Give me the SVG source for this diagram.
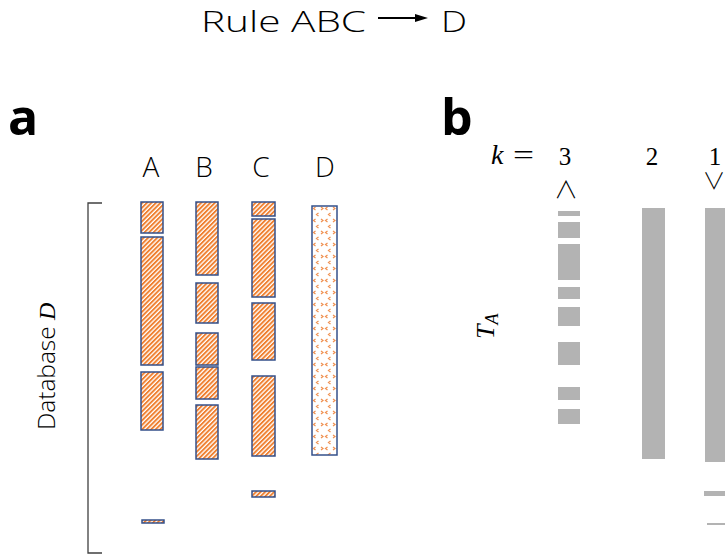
<svg xmlns="http://www.w3.org/2000/svg" width="725" height="560" viewBox="0 0 725 560">
<defs>
<pattern id="hatch" patternUnits="userSpaceOnUse" width="3.2" height="3.2" patternTransform="rotate(45)">
<rect width="3.2" height="3.2" fill="#ffffff"/>
<rect width="1.9" height="3.2" fill="#EF7F2F"/>
</pattern>
<pattern id="dots" patternUnits="userSpaceOnUse" x="312" y="206" width="12" height="12">
<rect width="12" height="12" fill="#ffffff"/>
<path d="M3.5,1 L1.5,2.5 L3.5,4 M9,1 L11,2.5 L9,4 M6.5,7 L4.5,8.5 L6.5,10" fill="none" stroke="#F09050" stroke-width="1.2"/>
</pattern>
</defs>
<style>
.t{font-family:"Open Sans","Liberation Sans",sans-serif;font-weight:300;fill:#000}
.lbl{font-family:"Open Sans","Liberation Sans",sans-serif;font-weight:700;fill:#000}
.m{font-family:"Liberation Serif",serif;fill:#000}
.op{font-family:"Noto Sans CJK JP","DejaVu Sans",sans-serif;font-weight:300;fill:#000}
.h{fill:url(#hatch);stroke:#34508A;stroke-width:1.5}
.g{fill:#B3B3B3}
</style>

<g id="title">
<text class="t" x="201" y="32" font-size="30" textLength="165" lengthAdjust="spacingAndGlyphs">Rule ABC</text>
<line x1="378" y1="18" x2="417" y2="18" stroke="#000" stroke-width="1.8"/>
<polygon points="415,14 428,18 415,22" fill="#000"/>
<text class="t" x="441" y="32" font-size="30" textLength="26" lengthAdjust="spacingAndGlyphs">D</text>
</g>

<g id="panel-a">
<text class="lbl" x="8" y="135" font-size="50">a</text>
<text class="t" x="151" y="177" font-size="28" text-anchor="middle">A</text>
<text class="t" x="204" y="177" font-size="28" text-anchor="middle">B</text>
<text class="t" x="261" y="177" font-size="28" text-anchor="middle">C</text>
<text class="t" x="325" y="177" font-size="28" text-anchor="middle">D</text>
<path d="M102,203 H88 V553 H102" fill="none" stroke="#404040" stroke-width="1.3"/>
<text transform="translate(55,430) rotate(-90)" font-size="24"><tspan class="t" textLength="110" lengthAdjust="spacingAndGlyphs">Database </tspan><tspan class="m" font-style="italic">D</tspan></text>
<g id="col-A">
<rect class="h" x="141" y="202" width="22" height="31"/>
<rect class="h" x="141" y="237" width="22" height="128"/>
<rect class="h" x="141" y="372" width="22" height="58"/>
<rect class="h" x="142" y="520" width="22" height="3"/>
</g>
<g id="col-B">
<rect class="h" x="196" y="202" width="22" height="73"/>
<rect class="h" x="196" y="283" width="22" height="40"/>
<rect class="h" x="196" y="333" width="22" height="32"/>
<rect class="h" x="196" y="367" width="22" height="32"/>
<rect class="h" x="196" y="405" width="22" height="54"/>
</g>
<g id="col-C">
<rect class="h" x="252" y="202" width="23" height="14"/>
<rect class="h" x="252" y="219" width="23" height="78"/>
<rect class="h" x="252" y="303" width="23" height="57"/>
<rect class="h" x="252" y="376" width="23" height="80"/>
<rect class="h" x="252" y="491" width="23" height="6"/>
</g>
<g id="col-D">
<rect x="312" y="206" width="25" height="249" fill="url(#dots)" stroke="#34508A" stroke-width="1.5"/>
</g>
</g>

<g id="panel-b">
<text class="lbl" x="441" y="135" font-size="50">b</text>
<text class="m" x="491" y="164" font-size="28"><tspan font-style="italic">k</tspan><tspan x="513" textLength="21" lengthAdjust="spacingAndGlyphs">=</tspan></text>
<text class="m" x="565" y="165" font-size="25" text-anchor="middle">3<tspan class="op" x="566" y="198" font-size="24">∧</tspan></text>
<text class="m" x="652" y="165" font-size="25" text-anchor="middle">2</text>
<text class="m" x="715" y="165" font-size="25" text-anchor="middle">1<tspan class="op" x="714" y="189" font-size="23">∨</tspan></text>
<text class="m" transform="translate(494,339) rotate(-90)" font-size="26" font-style="italic">T<tspan font-size="18" dy="4">A</tspan></text>
<g id="bars-k3">
<rect class="g" x="558" y="211" width="22" height="5"/>
<rect class="g" x="558" y="222" width="22" height="16"/>
<rect class="g" x="558" y="244" width="22" height="36"/>
<rect class="g" x="558" y="287" width="22" height="12"/>
<rect class="g" x="558" y="307" width="22" height="19"/>
<rect class="g" x="558" y="342" width="22" height="23"/>
<rect class="g" x="558" y="387" width="22" height="13"/>
<rect class="g" x="558" y="409" width="22" height="15"/>
</g>
<g id="bars-k2">
<rect class="g" x="642" y="208" width="23" height="251"/>
</g>
<g id="bars-k1">
<rect class="g" x="705" y="208" width="24" height="254"/>
<rect class="g" x="704" y="491" width="25" height="5"/>
<rect class="g" x="707" y="523" width="22" height="2"/>
</g>
</g>
</svg>
